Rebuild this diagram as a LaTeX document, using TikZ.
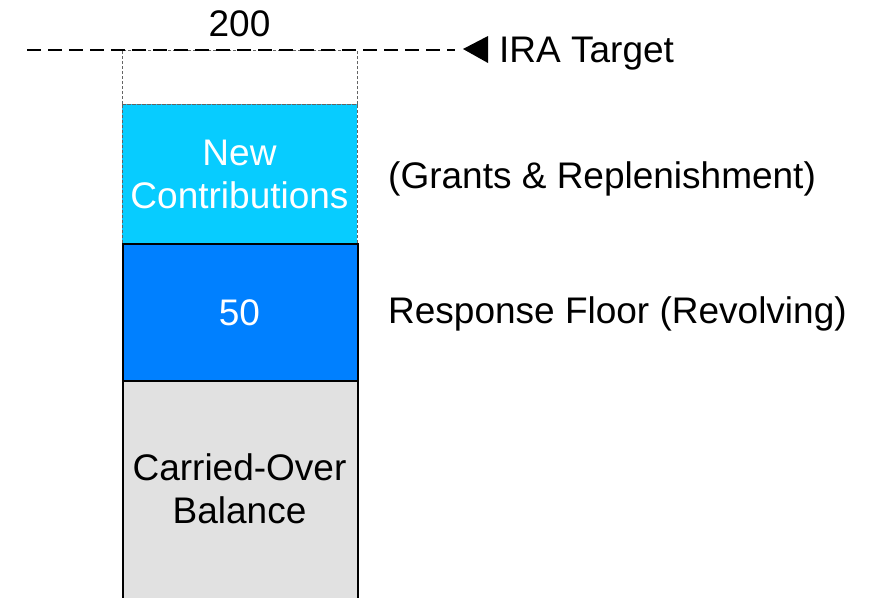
\documentclass[tikz,border=0pt]{standalone}
\usepackage{fontspec}
\setmainfont{Liberation Sans}
\definecolor{cyanfill}{RGB}{7,204,255}
\definecolor{bluefill}{RGB}{0,128,255}
\definecolor{grayfill}{RGB}{225,225,225}
\definecolor{dashgray}{RGB}{100,100,100}
\begin{document}
\begin{tikzpicture}[x=1pt,y=-1pt,
  lbl/.style={font=\fontsize{37}{43}\selectfont, inner sep=0pt, align=center},
  barbox/.style={draw=black, line width=2pt, minimum width=235pt, inner sep=0pt, anchor=north west, align=center, font=\fontsize{37}{43}\selectfont},
  thinbox/.style={draw=dashgray, dash pattern=on 3pt off 2pt, line width=0.9pt, minimum width=235pt, inner sep=0pt, anchor=north west, align=center, font=\fontsize{37}{43}\selectfont}]
\useasboundingbox (0,0) rectangle (874,597);
\begin{scope}
\clip (0,0) rectangle (874,597);
\node[barbox, fill=grayfill, minimum height=222pt] (carried) at (122,380) {};
\node[lbl, text=black] (carriedtxt) at (239.5,488.5) {Carried-Over\\Balance};
\node[thinbox, fill=cyanfill, minimum height=139pt] (newc) at (122,104) {};
\node[lbl, text=white] (newctxt) at (239.5,174) {New\\Contributions};
\node[barbox, fill=bluefill, minimum height=137pt] (resp) at (122,243) {};
\node[lbl, text=white] (resptxt) at (239.5,313) {50};
\node[thinbox, fill=white, minimum height=54pt] (topbox) at (122,50) {};
\end{scope}
\coordinate (dl) at (27,50);
\coordinate (dr) at (455,50);
\draw[line width=1.4pt, dash pattern=on 14pt off 7pt] (dl) -- (dr);
\node[lbl] (twohundred) at (239.5,24) {200};
\coordinate (triapex) at (463,49);
\fill[black] (triapex) -- (488,36) -- (488,63) -- cycle;
\node[lbl, anchor=west] (ira) at (499,54) {IRA Target};
\node[lbl, anchor=west] (grants) at (388,179) {(Grants \& Replenishment)};
\node[lbl, anchor=west] (floor) at (388,314) {Response Floor (Revolving)};
\end{tikzpicture}
\end{document}
